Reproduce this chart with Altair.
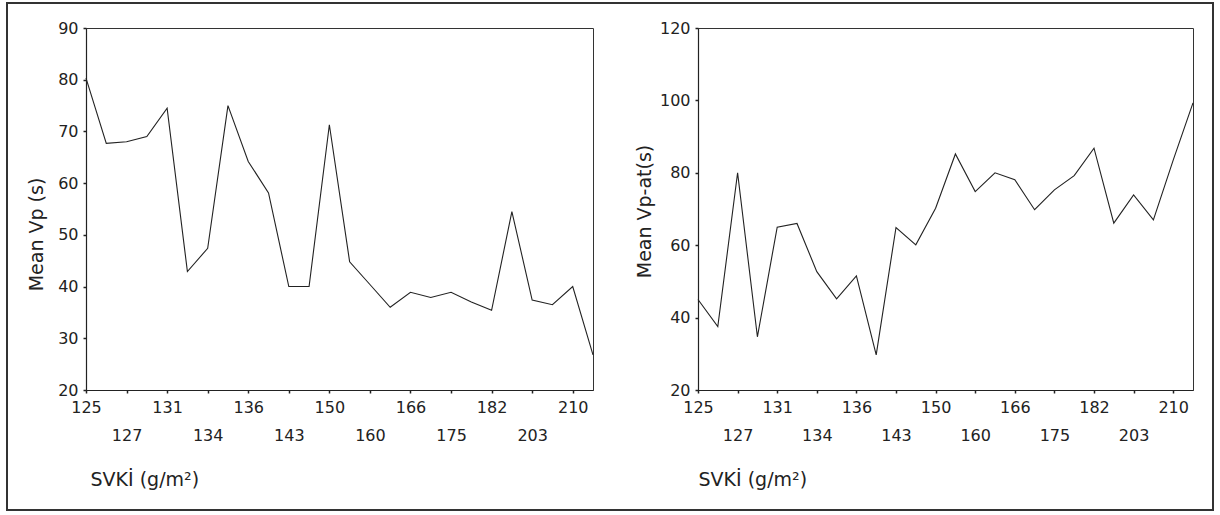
import altair as alt
import pandas as pd

# SVKİ categories (odd positions are unlabeled in the source; estimated)
categories = ['125', '126', '127', '129', '131', '133', '134', '135', '136', '140',
              '143', '147', '150', '155', '160', '163', '166', '170', '175', '178',
              '182', '190', '203', '206', '210', '215']
mean_vp = [80.3, 67.7, 68.0, 69.0, 74.5, 42.9, 47.4, 75.0, 64.2, 58.1,
           40.0, 40.0, 71.3, 44.8, 40.4, 36.0, 38.9, 37.9, 38.9, 37.0,
           35.4, 54.5, 37.4, 36.5, 40.0, 26.8]
mean_vp_at = [45.0, 37.5, 80.0, 34.7, 65.0, 66.0, 52.7, 45.2, 51.5, 29.7,
              64.9, 60.1, 70.2, 85.2, 74.8, 80.0, 78.1, 69.8, 75.3, 79.2,
              86.8, 66.1, 73.9, 67.0, 83.5, 99.3]
labeled = categories[::2]
left_ticks = [20, 30, 40, 50, 60, 70, 80, 90]
right_ticks = [20, 40, 60, 80, 100, 120]

df = pd.DataFrame({"svki": categories, "vp": mean_vp, "vpat": mean_vp_at})

arr = "[" + ",".join("'%s'" % c for c in labeled) + "]"
label_expr = "indexof(%s, datum.value) %% 2 == 1 ? ['', datum.label] : datum.label" % arr

INK = "#222222"
H = 362


def panel(field, ytitle, domain, ticks, width, xtitle_x, ytitle_x, ytitle_y):
    x = alt.X(
        "svki:O",
        sort=categories,
        scale=alt.Scale(type="point", padding=0),
        axis=alt.Axis(
            values=labeled, labelExpr=label_expr, labelOverlap=False,
            labelLineHeight=28, labelPadding=6, labelAngle=0, tickSize=3,
            title="SVKİ (g/m²)", titleX=xtitle_x, titleY=89,
            titleAlign="left", titleBaseline="middle", grid=False,
        ),
    )
    y = alt.Y(
        f"{field}:Q",
        scale=alt.Scale(domain=domain, nice=False, zero=False),
        axis=alt.Axis(
            values=ticks, tickSize=3, labelPadding=5, grid=False,
            title=ytitle, titleX=ytitle_x, titleY=ytitle_y, titleAngle=270,
            titleAlign="center", titleBaseline="middle",
        ),
    )
    line = alt.Chart(df).mark_line(color=INK, strokeWidth=1.1).encode(x=x, y=y)
    return line.properties(width=width, height=H)


left = panel("vp", "Mean Vp (s)", [20, 90], left_ticks, 507, 4, -50, 206)
right = panel("vpat", "Mean Vp-at(s)", [20, 120], right_ticks, 495, 0, -54, 183)

frame = alt.Chart(pd.DataFrame({"a": [0]})).mark_rect(
    fillOpacity=0, stroke="#333333", strokeWidth=2
).encode(
    x=alt.value(-79), x2=alt.value(1127), y=alt.value(-25), y2=alt.value(482)
)

left_layer = alt.layer(left, frame)

chart = alt.hconcat(left_layer, right, spacing=105, bounds="flush").properties(
    padding={"left": 5, "top": 1, "right": 5, "bottom": 5},
    background="white",
).configure_view(
    stroke="#333333", strokeWidth=1
).configure_axis(
    labelFont="DejaVu Sans", labelFontSize=16, labelColor=INK,
    titleFont="DejaVu Sans", titleFontSize=19, titleFontWeight="normal", titleColor=INK,
    domainColor=INK, tickColor=INK, domainWidth=1.2, tickWidth=1.5,
)

chart.save("out.html", embed_options={"renderer": "svg", "actions": False})
